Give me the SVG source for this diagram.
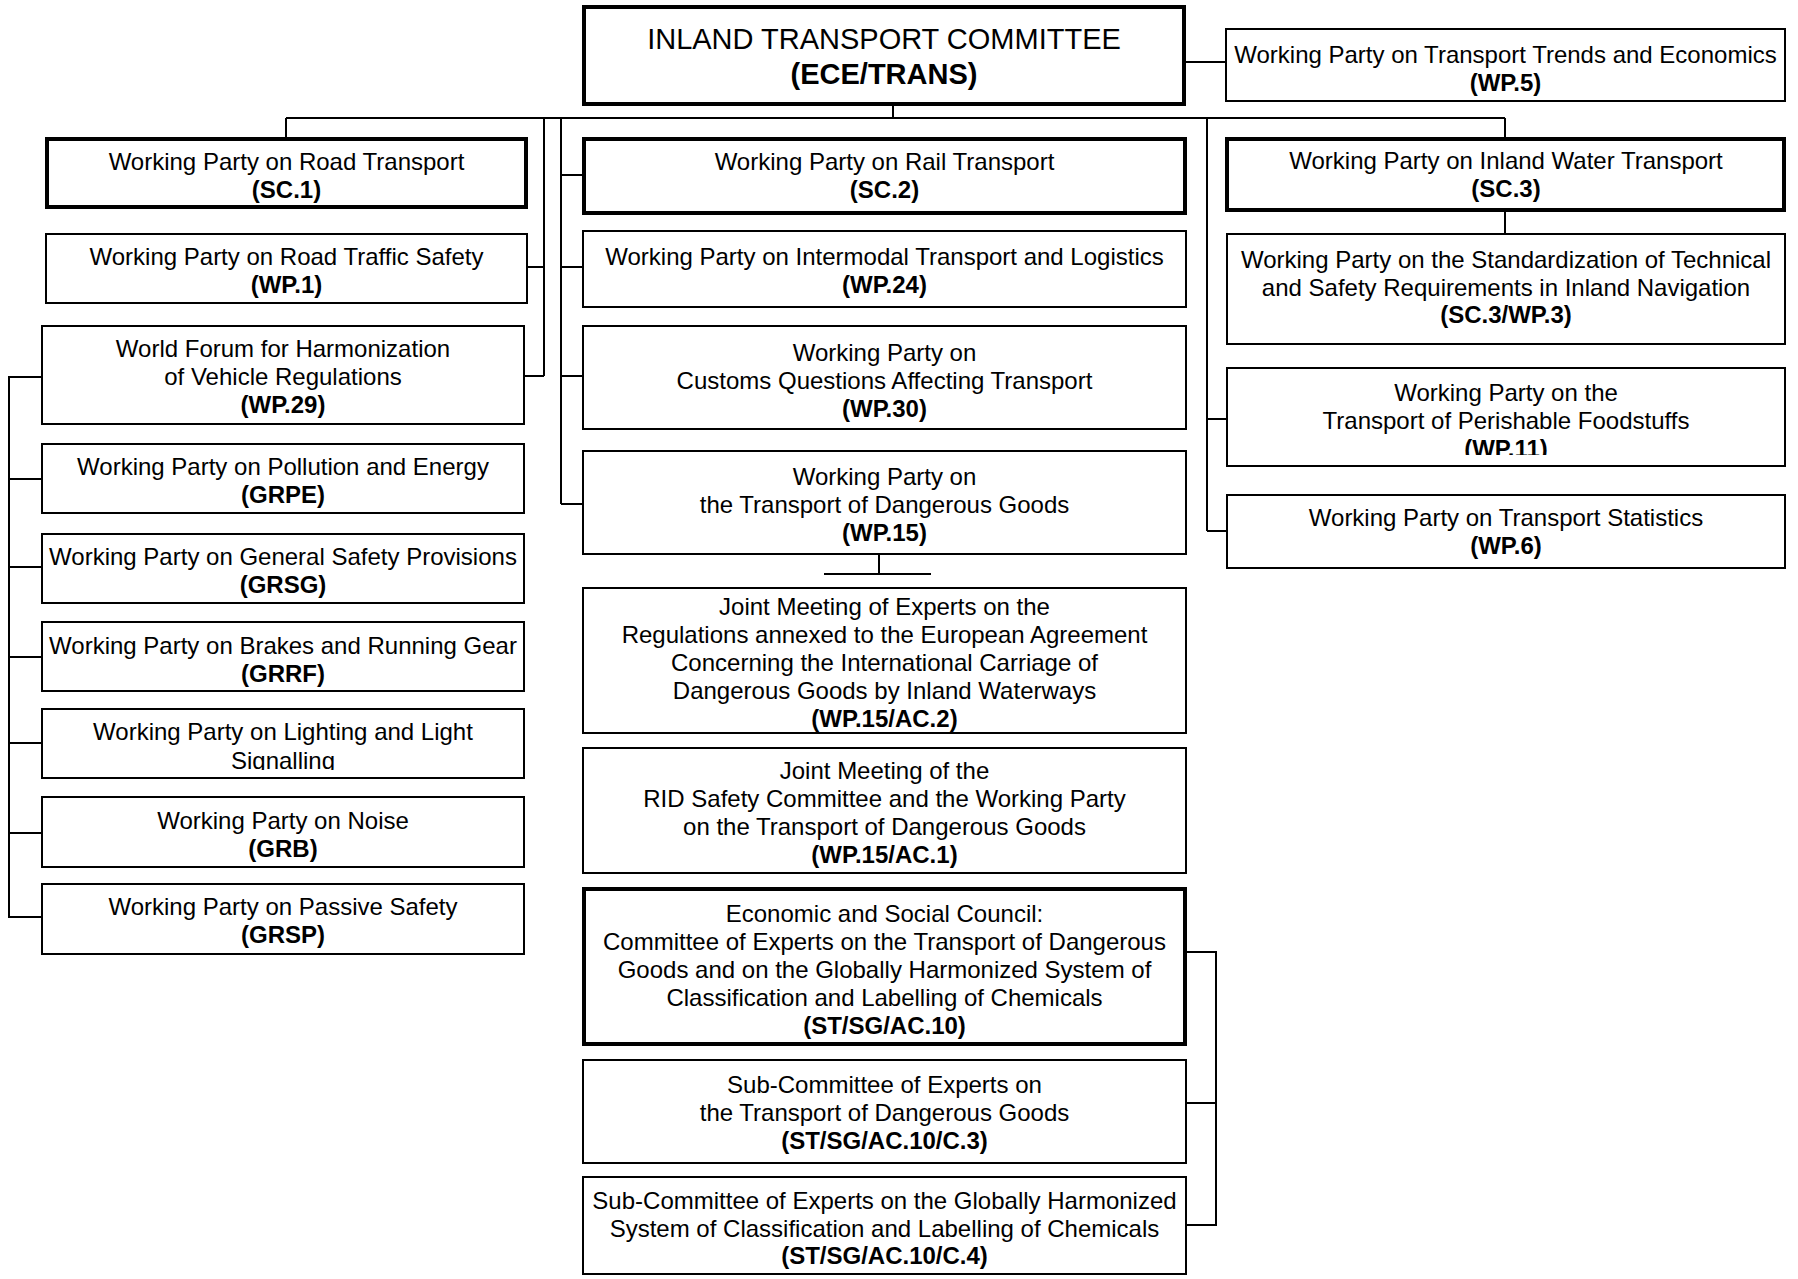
<svg xmlns="http://www.w3.org/2000/svg" width="1798" height="1279" viewBox="0 0 1798 1279">
<style>
.box{fill:#fff;stroke:#000;stroke-width:2}
.thick{stroke-width:4}
.t{font-family:"Liberation Sans",Arial,sans-serif;font-size:24px;text-anchor:middle;fill:#000}
.title{font-size:29px}
.b{font-weight:bold}
.conn{stroke:#000;stroke-width:2;fill:none}
</style>
<defs>
<clipPath id="clipLight"><rect x="0" y="700" width="600" height="70"/></clipPath>
<clipPath id="clipWP11"><rect x="1220" y="360" width="578" height="95"/></clipPath>
</defs>
<rect width="1798" height="1279" fill="#fff"/>
<g id="connectors">
<path class="conn" d="M893 106V118M286 118H1505M286 118V137M1505 118V137M1505 212V233M1186 62H1225"/>
<path class="conn" d="M544 118V376M528 267H544M525 376H544"/>
<path class="conn" d="M561 118V504M561 175H582M561 267H582M561 376H582M561 504H582"/>
<path class="conn" d="M1207 118V531M1207 419H1226M1207 531H1226"/>
<path class="conn" d="M879 555V574M824 574H931"/>
<path class="conn" d="M41 377H9V917H41M9 479H41M9 567H41M9 657H41M9 743H41M9 833H41"/>
<path class="conn" d="M1183 952H1216V1225H1183M1183 1103H1216"/>
</g>
<g id="itc">
<rect class="box thick" x="584" y="7" width="600" height="97"/>
<text class="t title" x="884" y="49">INLAND TRANSPORT COMMITTEE</text>
<text class="t title b" x="884" y="84">(ECE/TRANS)</text>
</g>
<g id="wp5">
<rect class="box" x="1226" y="29" width="559" height="72"/>
<text class="t" x="1505.5" y="63">Working Party on Transport Trends and Economics</text>
<text class="t b" x="1505.5" y="91">(WP.5)</text>
</g>
<g id="sc1">
<rect class="box thick" x="47" y="139" width="479" height="68"/>
<text class="t" x="286.5" y="170">Working Party on Road Transport</text>
<text class="t b" x="286.5" y="198">(SC.1)</text>
</g>
<g id="wp1">
<rect class="box" x="46" y="234" width="481" height="69"/>
<text class="t" x="286.5" y="265">Working Party on Road Traffic Safety</text>
<text class="t b" x="286.5" y="293">(WP.1)</text>
</g>
<g id="wp29">
<rect class="box" x="42" y="326" width="482" height="98"/>
<text class="t" x="283" y="357">World Forum for Harmonization</text>
<text class="t" x="283" y="385">of Vehicle Regulations</text>
<text class="t b" x="283" y="413">(WP.29)</text>
</g>
<g id="grpe">
<rect class="box" x="42" y="444" width="482" height="69"/>
<text class="t" x="283" y="475">Working Party on Pollution and Energy</text>
<text class="t b" x="283" y="503">(GRPE)</text>
</g>
<g id="grsg">
<rect class="box" x="42" y="534" width="482" height="69"/>
<text class="t" x="283" y="565">Working Party on General Safety Provisions</text>
<text class="t b" x="283" y="593">(GRSG)</text>
</g>
<g id="grrf">
<rect class="box" x="42" y="622" width="482" height="69"/>
<text class="t" x="283" y="654">Working Party on Brakes and Running Gear</text>
<text class="t b" x="283" y="682">(GRRF)</text>
</g>
<g id="lighting">
<rect class="box" x="42" y="709" width="482" height="69"/>
<g clip-path="url(#clipLight)">
<text class="t" x="283" y="740">Working Party on Lighting and Light</text>
<text class="t" x="283" y="768.5">Signalling</text>
</g>
</g>
<g id="grb">
<rect class="box" x="42" y="797" width="482" height="70"/>
<text class="t" x="283" y="829">Working Party on Noise</text>
<text class="t b" x="283" y="857">(GRB)</text>
</g>
<g id="grsp">
<rect class="box" x="42" y="884" width="482" height="70"/>
<text class="t" x="283" y="915">Working Party on Passive Safety</text>
<text class="t b" x="283" y="943">(GRSP)</text>
</g>
<g id="sc2">
<rect class="box thick" x="584" y="139" width="601" height="74"/>
<text class="t" x="884.5" y="170">Working Party on Rail Transport</text>
<text class="t b" x="884.5" y="198">(SC.2)</text>
</g>
<g id="wp24">
<rect class="box" x="583" y="231" width="603" height="76"/>
<text class="t" x="884.5" y="265">Working Party on Intermodal Transport and Logistics</text>
<text class="t b" x="884.5" y="293">(WP.24)</text>
</g>
<g id="wp30">
<rect class="box" x="583" y="326" width="603" height="103"/>
<text class="t" x="884.5" y="360.5">Working Party on</text>
<text class="t" x="884.5" y="388.5">Customs Questions Affecting Transport</text>
<text class="t b" x="884.5" y="416.5">(WP.30)</text>
</g>
<g id="wp15">
<rect class="box" x="583" y="451" width="603" height="103"/>
<text class="t" x="884.5" y="485">Working Party on</text>
<text class="t" x="884.5" y="513">the Transport of Dangerous Goods</text>
<text class="t b" x="884.5" y="541">(WP.15)</text>
</g>
<g id="ac2">
<rect class="box" x="583" y="588" width="603" height="145"/>
<text class="t" x="884.5" y="615">Joint Meeting of Experts on the</text>
<text class="t" x="884.5" y="643">Regulations annexed to the European Agreement</text>
<text class="t" x="884.5" y="671">Concerning the International Carriage of</text>
<text class="t" x="884.5" y="699">Dangerous Goods by Inland Waterways</text>
<text class="t b" x="884.5" y="727">(WP.15/AC.2)</text>
</g>
<g id="ac1">
<rect class="box" x="583" y="748" width="603" height="125"/>
<text class="t" x="884.5" y="779">Joint Meeting of the</text>
<text class="t" x="884.5" y="807">RID Safety Committee and the Working Party</text>
<text class="t" x="884.5" y="835">on the Transport of Dangerous Goods</text>
<text class="t b" x="884.5" y="863">(WP.15/AC.1)</text>
</g>
<g id="ac10">
<rect class="box thick" x="584" y="889" width="601" height="155"/>
<text class="t" x="884.5" y="921.5">Economic and Social Council:</text>
<text class="t" x="884.5" y="949.5">Committee of Experts on the Transport of Dangerous</text>
<text class="t" x="884.5" y="977.5">Goods and on the Globally Harmonized System of</text>
<text class="t" x="884.5" y="1005.5">Classification and Labelling of Chemicals</text>
<text class="t b" x="884.5" y="1033.5">(ST/SG/AC.10)</text>
</g>
<g id="c3">
<rect class="box" x="583" y="1060" width="603" height="103"/>
<text class="t" x="884.5" y="1093">Sub-Committee of Experts on</text>
<text class="t" x="884.5" y="1121">the Transport of Dangerous Goods</text>
<text class="t b" x="884.5" y="1149">(ST/SG/AC.10/C.3)</text>
</g>
<g id="c4">
<rect class="box" x="583" y="1177" width="603" height="97"/>
<text class="t" x="884.5" y="1209">Sub-Committee of Experts on the Globally Harmonized</text>
<text class="t" x="884.5" y="1236.5">System of Classification and Labelling of Chemicals</text>
<text class="t b" x="884.5" y="1264">(ST/SG/AC.10/C.4)</text>
</g>
<g id="sc3">
<rect class="box thick" x="1227" y="139" width="557" height="71"/>
<text class="t" x="1506" y="169">Working Party on Inland Water Transport</text>
<text class="t b" x="1506" y="197">(SC.3)</text>
</g>
<g id="wp3">
<rect class="box" x="1227" y="234" width="558" height="110"/>
<text class="t" x="1506" y="268">Working Party on the Standardization of Technical</text>
<text class="t" x="1506" y="295.5">and Safety Requirements in Inland Navigation</text>
<text class="t b" x="1506" y="323">(SC.3/WP.3)</text>
</g>
<g id="wp11">
<rect class="box" x="1227" y="368" width="558" height="98"/>
<g clip-path="url(#clipWP11)">
<text class="t" x="1506" y="400.5">Working Party on the</text>
<text class="t" x="1506" y="428.5">Transport of Perishable Foodstuffs</text>
<text class="t b" x="1506" y="456.5">(WP.11)</text>
</g>
</g>
<g id="wp6">
<rect class="box" x="1227" y="495" width="558" height="73"/>
<text class="t" x="1506" y="526">Working Party on Transport Statistics</text>
<text class="t b" x="1506" y="554">(WP.6)</text>
</g>
</svg>
